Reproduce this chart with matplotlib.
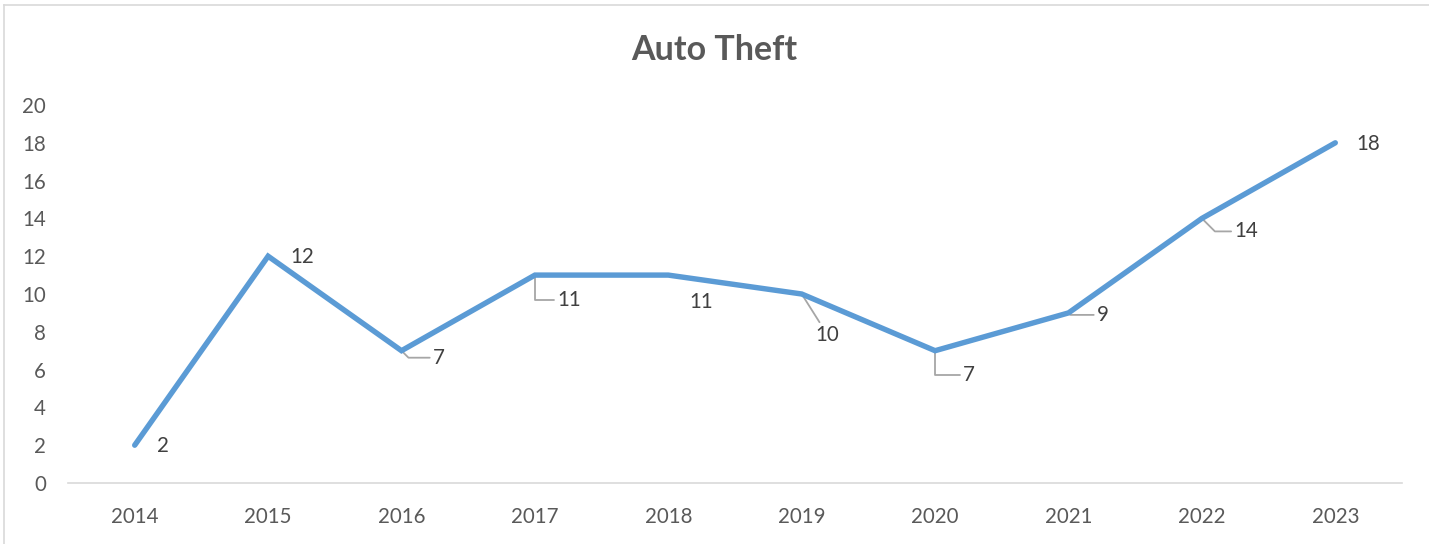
import matplotlib
matplotlib.use("Agg")
import matplotlib.pyplot as plt
from matplotlib.lines import Line2D

plt.rcParams['font.family'] = ['Lato', 'DejaVu Sans']

# data
years = ['2014', '2015', '2016', '2017', '2018', '2019', '2020', '2021', '2022', '2023']
thefts = [2, 12, 7, 11, 11, 10, 7, 9, 14, 18]
yticks = [0, 2, 4, 6, 8, 10, 12, 14, 16, 18, 20]

# label placement (pixels from the point: right, down) and leader shape
label_dx = [22, 22, 31, 22, 21, 14, 28, 28, 32, 21]
label_dy = [1, 1, 7, 25, 27, 41, 24, 2, 13, 1]
leaders = [None, None, 'diag', 'vert', None, 'straight', 'vert', 'diag', 'diag', None]
styles = {'diag': 'angle,angleA=0,angleB=-45,rad=0',
          'vert': 'angle,angleA=0,angleB=90,rad=0',
          'straight': 'arc3,rad=0'}

fig = plt.figure(figsize=(14.29, 5.44), dpi=100)
ax = fig.add_axes([68 / 1429, 1 - 483 / 544, (1402 - 68) / 1429, (483 - 105) / 544])

x = list(range(len(years)))
ax.plot(x, thefts, color='#5B9BD5', lw=3.9, solid_joinstyle='miter', solid_capstyle='round', zorder=3)

for i, v in enumerate(thefts):
    arrow = None
    if leaders[i]:
        arrow = dict(arrowstyle='-', color='#A6A6A6', lw=1.3, shrinkA=0, shrinkB=1,
                     connectionstyle=styles[leaders[i]])
    ax.annotate(str(v), xy=(i, v), xytext=(label_dx[i], -label_dy[i]), textcoords='offset pixels',
                ha='left', va='center', fontsize=14.8, color='#404040', arrowprops=arrow, zorder=2)

ax.set_xlim(-0.5, len(years) - 0.5)
ax.set_ylim(0, 20)
ax.set_xticks(x)
ax.set_xticklabels(years)
ax.set_yticks(yticks)
ax.tick_params(length=0, labelsize=14.8, labelcolor='#595959')
ax.tick_params(axis='x', pad=17)
ax.tick_params(axis='y', pad=16)
for s in ['top', 'right', 'left']:
    ax.spines[s].set_visible(False)
ax.spines['bottom'].set_color('#D9D9D9')
ax.spines['bottom'].set_linewidth(1.2)

fig.text(0.5, 1 - 50 / 544, 'Auto Theft', ha='center', va='center', fontsize=24.5,
         fontweight='bold', color='#595959')

# chart frame (top and left edges visible)
fig.add_artist(Line2D([4 / 1429, 4 / 1429], [0, 1 - 5 / 544], color='#D9D9D9', lw=1.2))
fig.add_artist(Line2D([4 / 1429, 1], [1 - 5 / 544, 1 - 5 / 544], color='#D9D9D9', lw=1.2))

fig.savefig('out.png', dpi=100)
